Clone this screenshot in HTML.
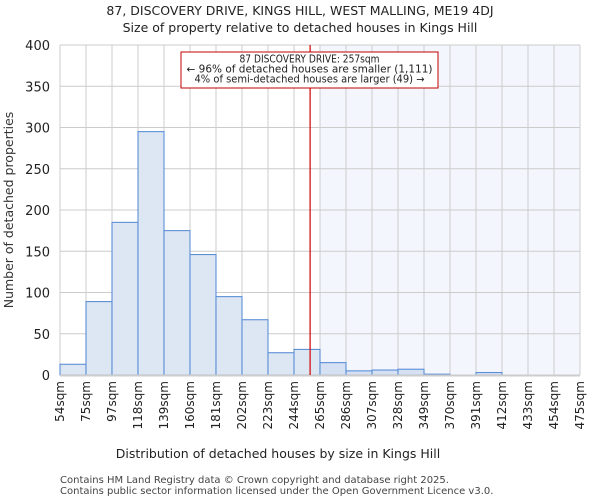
<!DOCTYPE html>
<html><head><meta charset="utf-8"><style>
body{margin:0;background:#fff;font-family:"DejaVu Sans","Liberation Sans",sans-serif;}
svg text{font-family:"DejaVu Sans","Liberation Sans",sans-serif;}
</style></head><body>
<svg id="c" width="600" height="500" xmlns="http://www.w3.org/2000/svg">
<text x="300" y="15" text-anchor="middle" font-size="12.5" fill="#222">87, DISCOVERY DRIVE, KINGS HILL, WEST MALLING, ME19 4DJ</text>
<text x="300" y="32" text-anchor="middle" font-size="12.5" fill="#222">Size of property relative to detached houses in Kings Hill</text>
<g id="plot"></g>
<text x="278" y="458" text-anchor="middle" font-size="12.5" fill="#222">Distribution of detached houses by size in Kings Hill</text>
<text transform="translate(13,210) rotate(-90)" text-anchor="middle" font-size="12.5" fill="#333">Number of detached properties</text>
<text x="60" y="483" font-size="10" fill="#444">Contains HM Land Registry data © Crown copyright and database right 2025.</text>
<text x="60" y="494" font-size="10" fill="#444">Contains public sector information licensed under the Open Government Licence v3.0.</text>
</svg>
<script>
const categories=["54sqm","75sqm","97sqm","118sqm","139sqm","160sqm","181sqm","202sqm","223sqm","244sqm","265sqm","286sqm","307sqm","328sqm","349sqm","370sqm","391sqm","412sqm","433sqm","454sqm","475sqm"];
const counts=[13,89,185,295,175,146,95,67,27,31,15,5,6,7,1,0,3,0,0,0];
const yTicks=[0,50,100,150,200,250,300,350,400];
const binEdges=[54,75,97,118,139,160,181,202,223,244,265,286,307,328,349,370,391,412,433,454,475];
const propertySize=257;
const L=60,R=580,T=45,B=375,yMax=400;
const NS="http://www.w3.org/2000/svg";
const g=document.getElementById('plot');
const bw=(R-L)/counts.length;
function xIdx(i){return L+i*bw;}
function xVal(v){for(let i=0;i<binEdges.length-1;i++){if(v<=binEdges[i+1])return xIdx(i)+(v-binEdges[i])/(binEdges[i+1]-binEdges[i])*bw;}return R;}
function y(v){return B-(v/yMax)*(B-T);}
function el(t,a){const e=document.createElementNS(NS,t);for(const k in a)e.setAttribute(k,a[k]);g.appendChild(e);return e;}
let firstAfter=counts.length;for(let i=0;i<counts.length;i++){if(binEdges[i]>=propertySize){firstAfter=i;break;}}
let sh=el('rect',{x:xIdx(firstAfter),y:T,width:R-xIdx(firstAfter),height:B-T,fill:'#f3f6fd'});


for(let i=0;i<=counts.length;i++){let l=el('line',{x1:xIdx(i),x2:xIdx(i),y1:T,y2:B,stroke:'#cccccc','stroke-width':1});

}
yTicks.forEach(t=>{let l=el('line',{x1:L,x2:R,y1:y(t),y2:y(t),stroke:'#cccccc','stroke-width':1});


let tx=el('text',{x:L-10,y:y(t)+5,'text-anchor':'end','font-size':'13',fill:'#222'});tx.textContent=t;

});
counts.forEach((c,i)=>{let r=el('rect',{x:xIdx(i),y:y(c),width:bw,height:B-y(c),fill:i>=firstAfter?'#d6e0f3':'#dde6f3',stroke:'#5b8fd6','stroke-width':1.1});

});
let ax=el('line',{x1:L,x2:R,y1:B+0.5,y2:B+0.5,stroke:'#cccccc','stroke-width':2});


categories.forEach((c,i)=>{let tx=el('text',{transform:`translate(${xIdx(i)+4},${B+6}) rotate(-90)`,'text-anchor':'end','font-size':'12',fill:'#222'});tx.textContent=c;

});
const px=xVal(propertySize);
let ml=el('line',{x1:px,x2:px,y1:T,y2:B,stroke:'#d00000','stroke-width':1.2});


let box=el('rect',{x:181,y:52,width:257,height:36,fill:'#fff',stroke:'#c00000','stroke-width':1});


["87 DISCOVERY DRIVE: 257sqm","← 96% of detached houses are smaller (1,111)","4% of semi-detached houses are larger (49) →"].forEach((s,i)=>{let tx=el('text',{x:309.5,y:62.5+i*10,'text-anchor':'middle','font-size':'10.3',textLength:i==0?'140':(i==1?'246':'230'),lengthAdjust:'spacingAndGlyphs',fill:'#222'});tx.textContent=s;

});
</script>
</body></html>
